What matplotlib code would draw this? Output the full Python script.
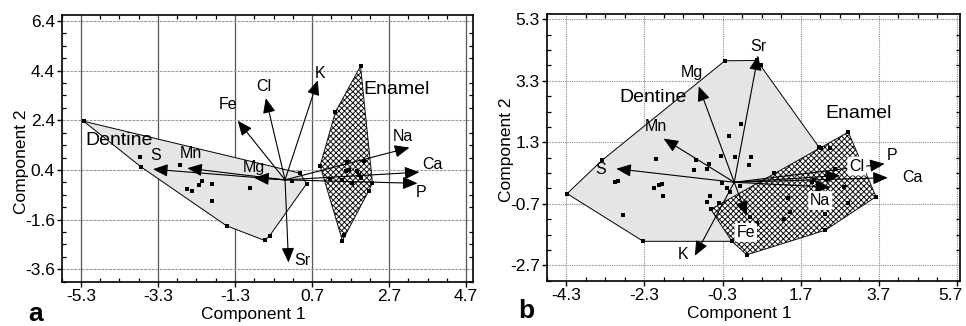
import numpy as np
import matplotlib
matplotlib.use("Agg")
import matplotlib.pyplot as plt
from matplotlib.patches import Polygon
from matplotlib.transforms import ScaledTranslation

plt.rcParams['font.family'] = ['Liberation Sans', 'DejaVu Sans']
plt.rcParams['hatch.linewidth'] = 0.7

# ---------------- panel a ----------------
a_elements = ["K", "Cl", "Fe", "Mn", "S", "Mg", "Sr", "Na", "Ca", "P"]
a_load_x = [0.85, -0.50, -1.23, -2.54, -3.43, -0.80, 0.09, 3.23, 3.49, 3.44]
a_load_y = [4.01, 3.29, 2.38, 0.47, 0.43, 0.08, -3.33, 1.30, 0.31, -0.14]

a_dentine_hull_x = [-5.23, 0.39, 0.56, -0.40, -0.53, -1.52, -3.73]
a_dentine_hull_y = [2.36, 0.27, -0.16, -2.25, -2.44, -1.85, 0.51]
a_dentine_x = [-3.77, -2.73, -2.55, -2.41, -2.24, -2.16, -1.90, -1.90, -0.90, 0.17]
a_dentine_y = [0.93, 0.59, -0.36, -0.45, -0.22, -0.03, -0.16, -0.87, -0.32, -0.05]

a_enamel_hull_x = [1.96, 1.31, 0.91, 1.49, 2.17, 2.27]
a_enamel_hull_y = [4.58, 2.74, 0.57, -2.45, -0.45, -0.12]
a_enamel_x = [1.62, 1.66, 1.58, 1.87, 1.92, 1.96, 1.17, 1.47, 1.75, 2.04, 1.53]
a_enamel_y = [0.70, 0.41, 0.34, 0.34, 0.21, 0.08, 0.04, 0.01, -0.12, 0.77, -2.22]

a_xticks = [-5.3, -3.3, -1.3, 0.7, 2.7, 4.7]
a_yticks = [-3.6, -1.6, 0.4, 2.4, 4.4, 6.4]

# ---------------- panel b ----------------
b_elements = ["Sr", "Mg", "Mn", "S", "K", "Fe", "Na", "Cl", "P", "Ca"]
b_load_x = [0.61, -0.91, -1.81, -3.02, -1.01, 0.32, 2.46, 2.71, 3.85, 3.93]
b_load_y = [4.12, 3.12, 1.42, 0.44, -2.39, -1.09, -0.16, 0.22, 0.60, 0.15]

b_dentine_hull_x = [-4.28, -3.38, -0.24, 0.58, 2.17, -0.06, -2.33]
b_dentine_hull_y = [-0.37, 0.72, 3.95, 3.96, 1.14, -1.92, -1.92]
b_dentine_x = [-2.01, -3.06, -2.98, -2.05, -1.93, -1.85, -1.82, -2.85, -0.98, -1.02,
               -0.71, -0.65, -0.35, -0.14, -0.31, -0.18, -0.62, -0.71, -0.38, 0.01,
               0.17, 0.44, 0.37, 0.15, -0.10, 0.68]
b_dentine_y = [0.75, 0.02, 0.05, -0.19, -0.09, -0.06, -0.44, -1.07, 0.72, 0.41,
               0.43, 0.59, 0.87, 1.50, -0.04, -0.19, -0.45, -0.65, -0.68, 0.81,
               1.89, 0.82, 0.56, -0.13, -0.32, 3.82]

b_enamel_hull_x = [-0.60, 2.92, 3.63, 2.33, 0.32, -0.06]
b_enamel_hull_y = [-0.88, 1.63, -0.47, -1.56, -2.36, -1.92]
b_enamel_x = [2.21, 2.46, 1.01, 1.99, 2.80, 1.37, 2.90, 1.44, 1.28, 2.33, 0.57, 0.40, 2.59, 2.04]
b_enamel_y = [1.10, 1.10, 0.31, 0.02, -0.14, -0.52, -0.68, -0.97, -1.19, -1.04, -1.33, -1.14, 0.43, 0.08]

b_xticks = [-4.3, -2.3, -0.3, 1.7, 3.7, 5.7]
b_yticks = [-2.7, -0.7, 1.3, 3.3, 5.3]

# label placement relative to each arrow tip (points)
a_label_offsets = {"K": (1.5, 5), "Cl": (-1.7, 8.4), "Fe": (-7.2, 11.5), "Mn": (2.4, 10.8),
                   "S": (1.7, 9.6), "Mg": (0, 7.2), "Sr": (9.6, 1.2), "Na": (-4.8, 7.7),
                   "Ca": (9.6, 5.8), "P": (2.4, -6.8)}
b_label_offsets = {"Sr": (0, 6.5), "Mg": (-4.8, 9.6), "Mn": (-5.8, 8.4), "S": (-11.5, -0.7),
                   "K": (-8.1, 0.7), "Fe": (-0.7, -12), "Na": (-7.2, -9.6), "Cl": (12, 6.8),
                   "P": (5.5, 6), "Ca": (18, 0)}
b_boxed = {"Fe", "Na", "Cl"}

origin = (0.0, 0.0)

fig = plt.figure(figsize=(9.66, 3.26), dpi=100)
ax_a = fig.add_axes([0.0639, 0.136, 0.4257, 0.818])
ax_b = fig.add_axes([0.566, 0.139, 0.4278, 0.817])

TICK_FS = 12.5
ELEM_FS = 11.5
GROUP_FS = 14
MARK_S = 12


def style_axes(ax, xticks, yticks, xlim, ylim):
    ax.set_xlim(*xlim)
    ax.set_ylim(*ylim)
    ax.set_xticks(xticks)
    ax.set_yticks(yticks)
    ax.set_xticklabels([f"{t:.1f}" for t in xticks])
    ax.set_yticklabels([f"{t:.1f}" for t in yticks])
    ax.set_xticks(np.arange(xticks[0] - 0.5, xlim[1], 0.5), minor=True)
    ax.set_yticks(np.arange(yticks[0] - 0.5, ylim[1], 0.5), minor=True)
    ax.tick_params(which='major', direction='out', length=3.5, width=1.0,
                   labelsize=TICK_FS, pad=1.5, top=False, right=False)
    ax.tick_params(which='minor', direction='in', length=3, width=0.9,
                   top=True, right=True, bottom=True, left=True)
    for sp in ax.spines.values():
        sp.set_linewidth(1.2)
    ax.set_axisbelow(True)


def draw_panel(ax, elements, lx, ly, offsets, boxed,
               dhx, dhy, dx, dy, ehx, ehy, ex, ey):
    dent = Polygon(np.column_stack([dhx, dhy]), closed=True, fc='#e4e5e7',
                   ec='black', lw=0.7, zorder=2)
    enam = Polygon(np.column_stack([ehx, ehy]), closed=True, fc='white',
                   ec='#111111', lw=0.7, hatch='xxxxxx', zorder=3)
    ax.add_patch(dent)
    ax.add_patch(enam)
    for xs, ys in ((dhx, dhy), (dx, dy), (ehx, ehy), (ex, ey)):
        ax.scatter(xs, ys, marker='s', s=MARK_S, c='k', lw=0, zorder=5)
    for name, x, y in zip(elements, lx, ly):
        ax.annotate('', xy=(x, y), xytext=origin,
                    arrowprops=dict(arrowstyle='-|>,head_length=0.75,head_width=0.32',
                                    mutation_scale=12, lw=0.8, color='black',
                                    shrinkA=0, shrinkB=0), zorder=6)
        kw = {}
        if name in boxed:
            kw['bbox'] = dict(boxstyle='round,pad=0.12', fc='white', ec='none')
        ax.annotate(name, xy=(x, y), xytext=offsets[name], textcoords='offset points',
                    ha='center', va='center', fontsize=ELEM_FS, zorder=7, **kw)


# panel a
style_axes(ax_a, a_xticks, a_yticks, (-5.595, 4.88), (-3.88, 6.64))
ax_a.grid(True, axis='x', which='major', color='#555555', lw=0.9, ls='-')
ax_a.grid(True, axis='y', which='major', color='#9a9a9a', lw=0.8, ls=(0, (2.5, 1)))
draw_panel(ax_a, a_elements, a_load_x, a_load_y, a_label_offsets, set(),
           a_dentine_hull_x, a_dentine_hull_y, a_dentine_x, a_dentine_y,
           a_enamel_hull_x, a_enamel_hull_y, a_enamel_x, a_enamel_y)
ax_a.text(-4.32, 1.6, "Dentine", fontsize=GROUP_FS, ha='center', va='center', zorder=8)
ax_a.text(2.89, 3.62, "Enamel", fontsize=GROUP_FS, ha='center', va='center', zorder=8)
ax_a.set_xlabel("Component 1", fontsize=TICK_FS)
ax_a.set_ylabel("Component 2", fontsize=TICK_FS)
ax_a.xaxis.set_label_coords(0.465, -0.095)
ax_a.yaxis.set_label_coords(-0.08, 0.45)
ax_a.xaxis.label.set_va('top')

# panel b
style_axes(ax_b, b_xticks, b_yticks, (-4.59, 5.78), (-2.86, 5.46))
ax_b.grid(True, which='major', color='#8a8a8a', lw=0.8, ls=(0, (1, 1)))
draw_panel(ax_b, b_elements, b_load_x, b_load_y, b_label_offsets, b_boxed,
           b_dentine_hull_x, b_dentine_hull_y, b_dentine_x, b_dentine_y,
           b_enamel_hull_x, b_enamel_hull_y, b_enamel_x, b_enamel_y)
ax_b.text(-2.07, 2.74, "Dentine", fontsize=GROUP_FS, ha='center', va='center', zorder=8)
ax_b.text(3.17, 2.22, "Enamel", fontsize=GROUP_FS, ha='center', va='center', zorder=8)
ax_b.set_xlabel("Component 1", fontsize=TICK_FS)
ax_b.set_ylabel("Component 2", fontsize=TICK_FS)
ax_b.xaxis.set_label_coords(0.467, -0.095)
ax_b.yaxis.set_label_coords(-0.08, 0.49)
ax_b.xaxis.label.set_va('top')

# keep the last x tick label of panel b inside the figure
last_lbl = ax_b.get_xticklabels()[-1]
last_lbl.set_transform(last_lbl.get_transform() + ScaledTranslation(-6 / 100, 0, fig.dpi_scale_trans))

fig.text(36 / 966, 1 - 314 / 326, "a", fontsize=19, fontweight='bold', ha='center', va='center')
fig.text(526 / 966, 1 - 311 / 326, "b", fontsize=19, fontweight='bold', ha='center', va='center')

fig.savefig("out.png", dpi=100)
